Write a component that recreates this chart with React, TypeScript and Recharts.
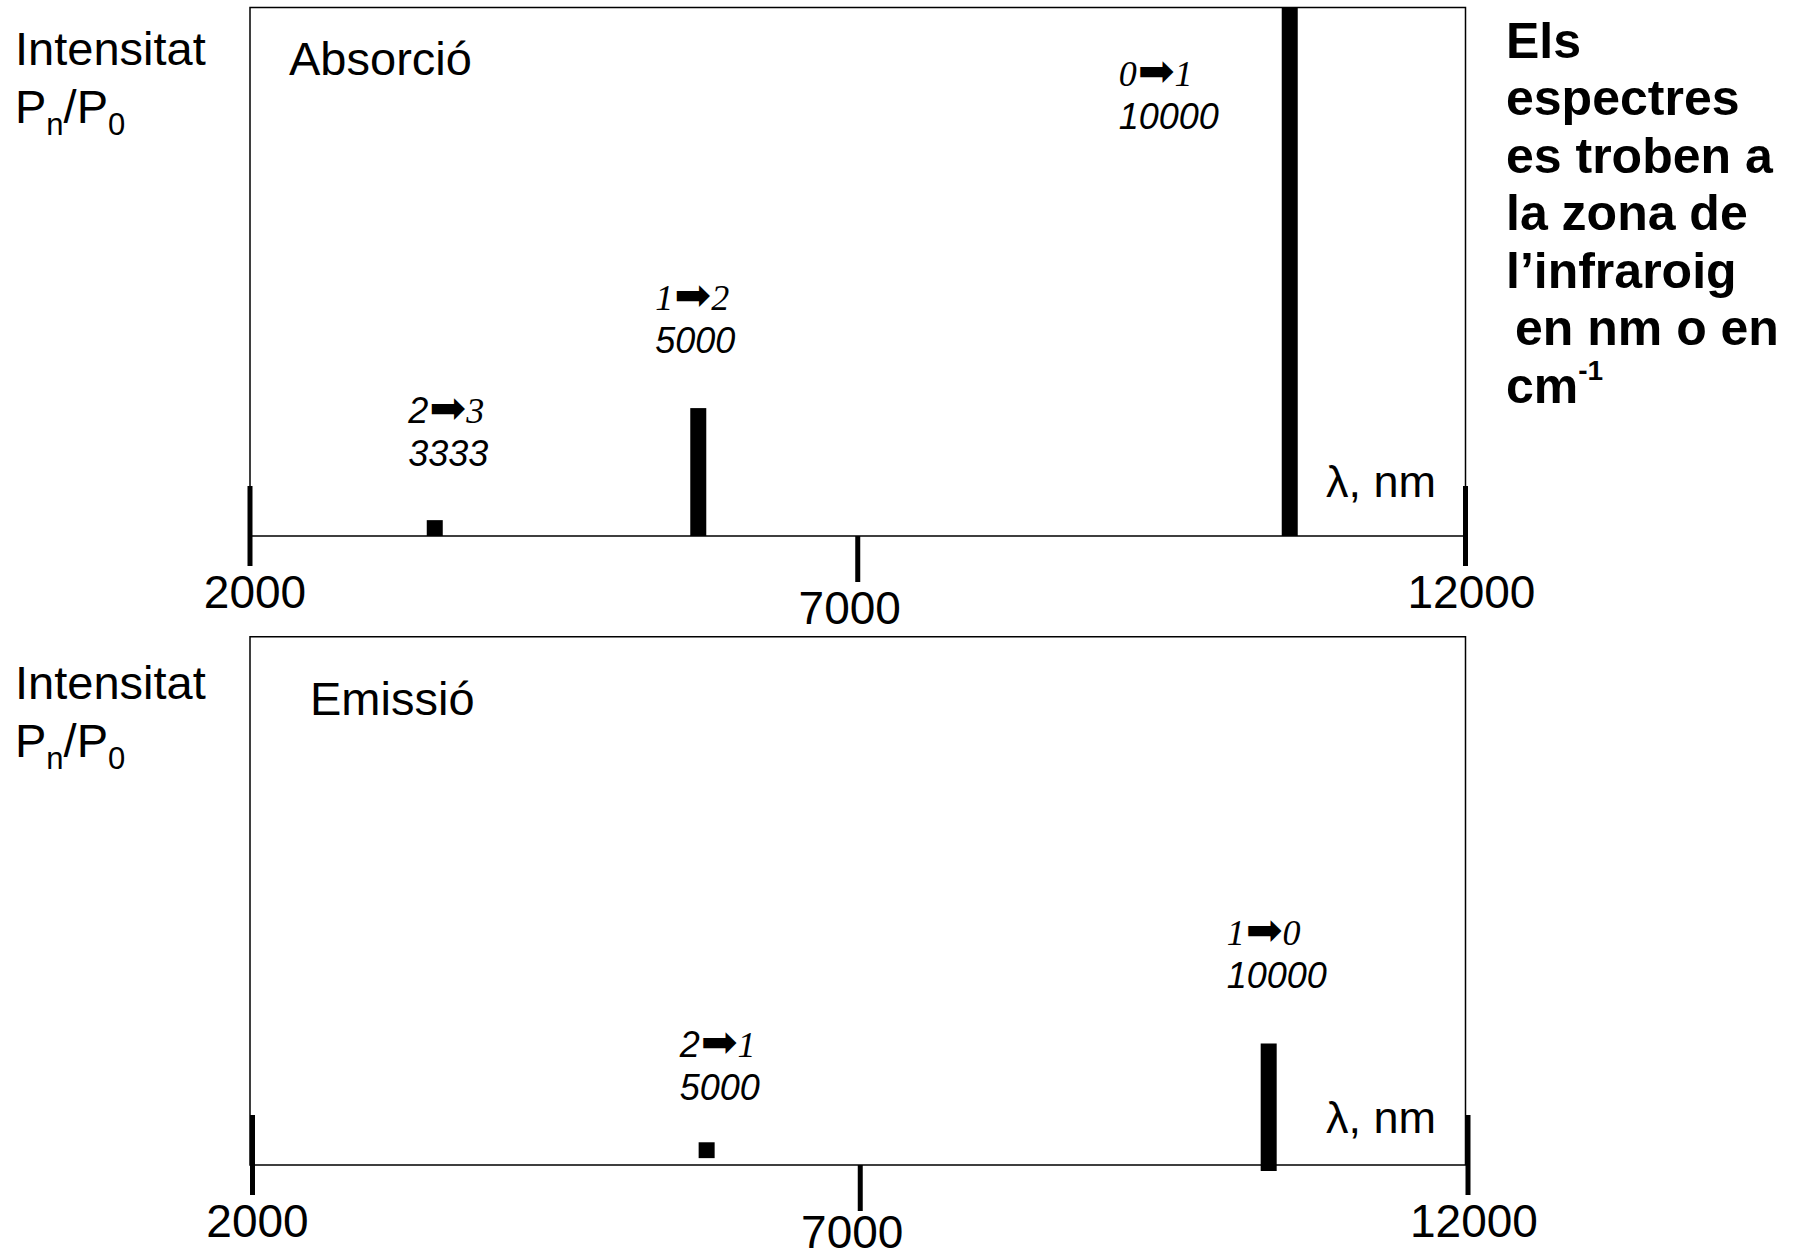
import React from "react";
import { ComposedChart, Bar, XAxis, YAxis, ReferenceArea } from "recharts";

const SANS = "'Liberation Sans', Arial, sans-serif";
const SERIF = "'Liberation Serif', 'Times New Roman', serif";
const ARROW = "'DejaVu Sans', sans-serif";

// x axis ticks (nm)
const xTicks = [2000, 7000, 12000];

// absorption lines: transition, label, position, relative intensity
const absFrom = ["2", "1", "0"];
const absTo = ["3", "2", "1"];
const absWave = ["3333", "5000", "10000"];
const absPos = [3518, 5686, 10552];
const absIntensity = [0.03, 0.242, 1];

// emission lines (low/high of each mark)
const emFrom = ["2", "1"];
const emTo = ["1", "0"];
const emWave = ["5000", "10000"];
const emPos = [5757, 10381];
const emLow = [0.013, 0];
const emHigh = [0.043, 0.23];

const noteLines = ["Els", "espectres", "es troben a", "la zona de", "l\u2019infraroig", "en nm o en", "cm"];

type LabelStyle = { dx: number; dy: number; serifFrom: boolean; tail?: number };

// label placement relative to the bar (centre x, top y)
const absLabelStyle: LabelStyle[] = [
  { dx: -26.5, dy: -54, serifFrom: false },
  { dx: -43, dy: -55, serifFrom: true },
  { dx: -171, dy: 121, serifFrom: true },
];
const emLabelStyle: LabelStyle[] = [
  { dx: -27, dy: -42, serifFrom: false },
  { dx: -42, dy: -55, serifFrom: true, tail: 6 },
];

function makeShape(pos: number[], from: string[], to: string[], wave: string[], styles: LabelStyle[]) {
  return (props: any) => {
    const { x, y, width, height } = props;
    const i = props.index ?? pos.indexOf(props.payload?.x);
    const s = styles[i];
    const tx = x + width / 2 + s.dx;
    return (
      <g>
        <rect x={x} y={y} width={width} height={height + (s.tail || 0)} fill="#000" />
        <text x={tx} y={y + s.dy - 43} fontSize={36} fontStyle="italic" fill="#000">
          <tspan fontFamily={s.serifFrom ? SERIF : SANS}>{from[i]}</tspan>
          <tspan fontFamily={ARROW} fontStyle="normal" fontSize={44} dx={1}>{"\u27A1"}</tspan>
          <tspan fontFamily={SERIF}>{to[i]}</tspan>
        </text>
        <text x={tx} y={y + s.dy} fontSize={36} fontStyle="italic" fontFamily={SANS} fill="#000">
          {wave[i]}
        </text>
      </g>
    );
  };
}

const tickDx = [5, -8, 6];

function makeTick(shift: number, midLabelDy: number) {
  return (props: any) => {
    const { x, y, payload } = props;
    const i = xTicks.indexOf(payload.value);
    const end = i === 0 || i === xTicks.length - 1;
    const tx = x + shift;
    return (
      <g>
        <line x1={tx} x2={tx} y1={end ? y - 50 : y} y2={end ? y + 30 : y + 46} stroke="#000" strokeWidth={5} />
        <text x={tx + tickDx[i]} y={y + (end ? 72 : midLabelDy)} textAnchor="middle" fontFamily={SANS} fontSize={46} fill="#000">
          {payload.value}
        </text>
      </g>
    );
  };
}

const SideLabel = ({ y }: { y: number }) => (
  <g fontFamily={SANS} fill="#000">
    <text x={15} y={y} fontSize={47}>Intensitat</text>
    <text x={15} y={y + 57.5} fontSize={47}>
      P<tspan fontSize={31} dy={12}>n</tspan>
      <tspan dy={-12}>/P</tspan>
      <tspan fontSize={31} dy={12}>0</tspan>
    </text>
  </g>
);

export default function App() {
  const absData = absPos.map((x, i) => ({ x, v: absIntensity[i] }));
  const emData = emPos.map((x, i) => ({ x, v: [emLow[i], emHigh[i]] }));

  return (
    <div style={{ position: "absolute", left: 0, top: 0, width: 1802, height: 1251, background: "#fff", overflow: "hidden" }}>
      <div style={{ position: "absolute", left: 0, top: 0 }}>
        <ComposedChart width={1802} height={650} data={absData} margin={{ top: 7.5, right: 336.5, bottom: 24, left: 250 }}>
          <XAxis dataKey="x" type="number" domain={[2000, 12000]} ticks={xTicks} interval={0} height={90}
            axisLine={false} tickLine={false} tickSize={0} tickMargin={0} tick={makeTick(0, 88)} />
          <YAxis type="number" domain={[0, 1]} hide />
          <ReferenceArea x1={2000} x2={12000} y1={0} y2={1} fill="none" stroke="#000" strokeWidth={1.5} ifOverflow="visible" />
          <Bar dataKey="v" barSize={16} fill="#000" isAnimationActive={false}
            shape={makeShape(absPos, absFrom, absTo, absWave, absLabelStyle)} />
        </ComposedChart>
      </div>
      <div style={{ position: "absolute", left: 0, top: 630 }}>
        <ComposedChart width={1802} height={621} data={emData} margin={{ top: 6.7, right: 336.5, bottom: 0, left: 250 }}>
          <XAxis dataKey="x" type="number" domain={[2000, 12000]} ticks={xTicks} interval={0} height={86}
            axisLine={false} tickLine={false} tickSize={0} tickMargin={0} tick={makeTick(2.5, 83)} />
          <YAxis type="number" domain={[0, 1]} hide />
          <ReferenceArea x1={2000} x2={12000} y1={0} y2={1} fill="none" stroke="#000" strokeWidth={1.5} ifOverflow="visible" />
          <Bar dataKey="v" barSize={16} fill="#000" isAnimationActive={false}
            shape={makeShape(emPos, emFrom, emTo, emWave, emLabelStyle)} />
        </ComposedChart>
      </div>
      <svg width={1802} height={1251} style={{ position: "absolute", left: 0, top: 0, pointerEvents: "none" }}>
        <SideLabel y={65} />
        <SideLabel y={699} />
        <g fontFamily={SANS} fill="#000" fontSize={47}>
          <text x={289} y={75}>Absorció</text>
          <text x={310} y={715}>Emissió</text>
        </g>
        <g fontFamily={SANS} fill="#000" fontSize={45}>
          <text x={1326} y={497}>λ, nm</text>
          <text x={1326} y={1133}>λ, nm</text>
        </g>
        <g fontFamily={SANS} fill="#000" fontSize={50} fontWeight="bold">
          {noteLines.map((t, i) => (
            <text key={t} x={i === 5 ? 1515 : 1506} y={57.5 + i * 57.5}>
              {t}
              {i === noteLines.length - 1 ? <tspan fontSize={28} dy={-23}>-1</tspan> : null}
            </text>
          ))}
        </g>
      </svg>
    </div>
  );
}
